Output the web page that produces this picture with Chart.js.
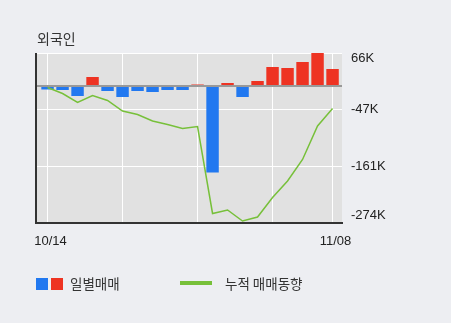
<!DOCTYPE html>
<html>
<head>
<meta charset="utf-8">
<script src="https://cdn.jsdelivr.net/npm/chart.js@4"></script>
<style>
    body { margin: 0; background: #edeef2; font-family: "Noto Sans CJK KR", sans-serif; }
    #wrap { position: relative; width: 451px; height: 323px; }
    #title { position: absolute; left: 37px; top: 28px; font-size: 14px; color: #333; }
    .legend { position: absolute; top: 274px; font-size: 13.5px; color: #333; line-height: 18px; }
    .sq { display: inline-block; width: 12px; height: 12px; vertical-align: -1px; }
    .ln { display: inline-block; width: 32px; height: 4px; background: #77c03a; vertical-align: 4px; }
</style>
</head>
<body>
<div id="wrap">
    <canvas id="chart" width="451" height="323"></canvas>
    <div id="title">외국인</div>
    <div class="legend" style="left:36px"><span class="sq" style="background:#2178f0"></span><span class="sq" style="background:#ee3322;margin-left:3px"></span><span style="margin-left:7px">일별매매</span></div>
    <div class="legend" style="left:180px"><span class="ln"></span><span style="margin-left:13px">누적 매매동향</span></div>
</div>
<script>
// trading days, 10/14 ~ 11/08
const dates = ['10/14', '10/15', '10/16', '10/17', '10/18', '10/21', '10/22', '10/23', '10/24', '10/25',
    '10/28', '10/29', '10/30', '10/31', '11/01', '11/04', '11/05', '11/06', '11/07', '11/08'];
// daily net buying (K)
const daily = [-7, -8, -20, 18, -10, -22, -10, -12, -8, -8, 3, -173, 6, -22, 10, 38, 36, 48, 66, 34];
// cumulative trend (K)
const cumulative = [-3, -15, -33, -19, -29, -50, -57, -70, -77, -85, -81, -255, -248, -270, -262, -223, -190, -147, -80, -45];
const yTicks = [66, 0, -47, -161, -274];
const xTicks = [0, 5, 10, 15, 19];

const plotBg = {
    id: 'plotBg',
    beforeDraw(chart) {
        const { ctx, chartArea: a } = chart;
        ctx.save();
        ctx.fillStyle = '#e1e1e1';
        ctx.fillRect(a.left, a.top, a.right - a.left, a.bottom - a.top);
        ctx.restore();
    },
    afterDraw(chart) {
        const { ctx, chartArea: a } = chart;
        const y = chart.scales.y;
        ctx.save();
        // left axis line
        ctx.strokeStyle = '#333';
        ctx.lineWidth = 2;
        ctx.beginPath();
        ctx.moveTo(a.left, a.top);
        ctx.lineTo(a.left, a.bottom + 1);
        ctx.stroke();
        // right value labels, kept inside the plot height
        ctx.fillStyle = '#222';
        ctx.font = '13px "Liberation Sans"';
        ctx.textAlign = 'left';
        y.ticks.forEach(t => {
            if (t.value === 0) return;
            let py = y.getPixelForValue(t.value);
            ctx.textBaseline = 'middle';
            if (py - 7 < a.top) { py = a.top - 1; ctx.textBaseline = 'top'; }
            if (py + 7 > a.bottom) { py = a.bottom - 1; ctx.textBaseline = 'bottom'; }
            ctx.fillText(t.value + 'K', a.right + 9, py);
        });
        ctx.restore();
    }
};

new Chart(document.getElementById('chart').getContext('2d'), {
    type: 'bar',
    data: {
        datasets: [
            {
                type: 'line',
                data: cumulative.map((v, i) => ({ x: i, y: v })),
                borderColor: '#77c03a',
                borderWidth: 1.5,
                pointRadius: 0,
                tension: 0,
                order: 0
            },
            {
                data: daily.map((v, i) => ({ x: i, y: v })),
                backgroundColor: daily.map(v => v < 0 ? '#2178f0' : '#ee3322'),
                barPercentage: 0.83,
                categoryPercentage: 1,
                order: 1
            }
        ]
    },
    options: {
        responsive: false,
        animation: false,
        layout: { padding: { left: 36, top: 53, right: 0, bottom: 0 } },
        plugins: { legend: { display: false }, tooltip: { enabled: false } },
        scales: {
            x: {
                type: 'linear',
                offset: false,
                min: -0.77,
                max: 19.63,
                afterBuildTicks: s => { s.ticks = xTicks.map(v => ({ value: v })); },
                afterFit: s => { s.height = 100; },
                grid: { color: '#ffffff', lineWidth: 1, drawTicks: false, offset: false },
                border: { color: '#333', width: 2 },
                ticks: {
                    callback: v => (v === 0 || v === 19) ? dates[v] : '',
                    autoSkip: false,
                    maxRotation: 0,
                    padding: 11,
                    labelOffset: 3,
                    color: '#222',
                    font: { family: 'Liberation Sans', size: 13 }
                }
            },
            y: {
                position: 'right',
                min: -274,
                max: 66,
                afterBuildTicks: s => { s.ticks = yTicks.map(v => ({ value: v })); },
                afterFit: s => { s.width = 109; },
                grid: {
                    color: c => c.tick && c.tick.value === 0 ? '#999999' : '#ffffff',
                    lineWidth: c => c.tick && c.tick.value === 0 ? 2 : 1,
                    drawTicks: false
                },
                border: { display: false },
                ticks: { display: false }
            }
        }
    },
    plugins: [plotBg]
});
</script>
</body>
</html>
